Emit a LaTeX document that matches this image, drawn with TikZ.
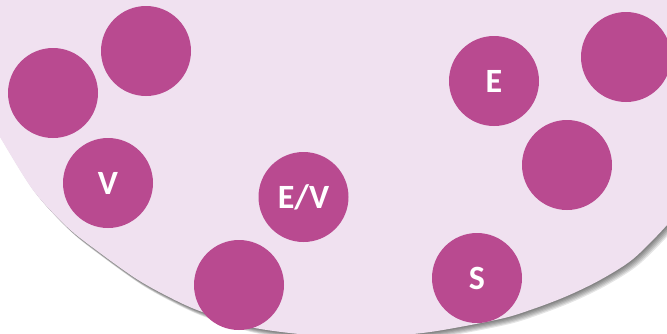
\documentclass[tikz,border=0pt]{standalone}
\usepackage{fontspec}
\setmainfont{Carlito}
\definecolor{bgpink}{HTML}{F0E1F0}
\definecolor{dotpurple}{HTML}{B94A90}
\newcommand{\blobpath}{(-20,-20) -- (700,-20) -- (700,185) -- plot[smooth,tension=0.5] coordinates {(684,202) (667,225) (633,259) (600,280) (567,296) (533,309) (500,319) (430,332) (370,337) (310,335) (250,327) (197,310) (163,294) (135,278) (100,253) (67,227) (33,190) (0,137) (-12,115)} -- (-20,100) -- cycle}
\tikzset{
  dot/.style={circle, fill=dotpurple, minimum size=90pt, inner sep=0pt, text=white,
    font=\fontsize{34}{34}\selectfont\bfseries}
}
\begin{document}
\begin{tikzpicture}[x=1pt,y=-1pt]
\useasboundingbox (0,0) rectangle (667,333);
\fill[white] (0,0) rectangle (667,333);
\foreach \i in {1,...,6}{
  \begin{scope}[shift={(0.9*\i,1.0*\i)}]
    \fill[black,opacity=0.1] \blobpath;
  \end{scope}
}
\fill[bgpink] \blobpath;
\node[dot] (c1) at (146,51) {};
\node[dot] (c2) at (53,93) {};
\node[dot] (cv) at (108,183) {V};
\node[dot] (c4) at (239,285) {};
\node[dot] (cev) at (303.5,197) {E/V};
\node[dot] (cs) at (477,278) {S};
\node[dot] (ce) at (494,81) {E};
\node[dot] (c8) at (567,165) {};
\node[dot] (c9) at (626,57) {};
\end{tikzpicture}
\end{document}
